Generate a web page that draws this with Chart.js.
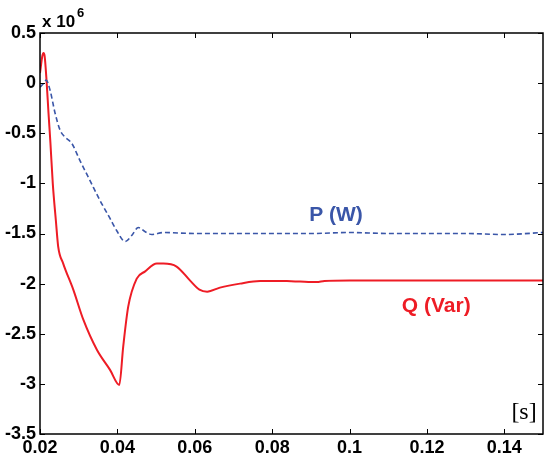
<!DOCTYPE html>
<html>
<head>
<meta charset="utf-8">
<script src="https://cdn.jsdelivr.net/npm/chart.js@4/dist/chart.umd.min.js"></script>
<style>
  html, body { margin: 0; padding: 0; background: #fff; }
  #wrap { width: 545px; height: 458px; }
</style>
</head>
<body>
<div id="wrap"><canvas id="grafico" width="545" height="458"></canvas></div>
<script>
// dados (valores em x 10^6)
const tempoP = [0.0200, 0.0210, 0.0216, 0.0226, 0.0239, 0.0252, 0.0265, 0.0282, 0.0303, 0.0329, 0.0355, 0.0381, 0.0398, 0.0420, 0.0437, 0.0454, 0.0471, 0.0489, 0.0519, 0.0600, 0.0700, 0.0800, 0.0900, 0.1000, 0.1100, 0.1200, 0.1300, 0.1400, 0.1500];
const valoresP = [-0.04, 0.00, 0.03, -0.07, -0.30, -0.47, -0.54, -0.60, -0.77, -0.97, -1.17, -1.35, -1.47, -1.58, -1.52, -1.44, -1.48, -1.51, -1.49, -1.50, -1.50, -1.50, -1.50, -1.49, -1.50, -1.50, -1.50, -1.51, -1.49];

const tempoQ = [0.0200, 0.0206, 0.0209, 0.0212, 0.0217, 0.0222, 0.0227, 0.0233, 0.0241, 0.0247, 0.0260, 0.0286, 0.0312, 0.0347, 0.0381, 0.0405, 0.0415, 0.0428, 0.0450, 0.0471, 0.0502, 0.0519, 0.0553, 0.0588, 0.0612, 0.0632, 0.0665, 0.0717, 0.0769, 0.0838, 0.0872, 0.0915, 0.0935, 0.1000, 0.1200, 0.1400, 0.1500];
const valoresQ = [0.10, 0.27, 0.30, 0.27, 0.02, -0.30, -0.60, -1.00, -1.37, -1.63, -1.80, -2.06, -2.36, -2.66, -2.86, -3.01, -2.63, -2.23, -1.95, -1.88, -1.80, -1.80, -1.83, -1.97, -2.06, -2.08, -2.04, -2.00, -1.975, -1.975, -1.98, -1.985, -1.975, -1.97, -1.97, -1.97, -1.97];

const ticksX = [0.02, 0.04, 0.06, 0.08, 0.1, 0.12, 0.14];
const ticksY = [0.5, 0, -0.5, -1, -1.5, -2, -2.5, -3, -3.5];

const fonteEixo = { family: "'Liberation Sans', Arial, sans-serif", size: 18, weight: 'bold' };

// tracinhos internos, moldura e textos
const moldura = {
    id: 'moldura',
    afterDraw(chart) {
        const c = chart.ctx;
        const a = chart.chartArea;
        const sx = chart.scales.x, sy = chart.scales.y;
        c.save();
        c.strokeStyle = '#000';
        c.lineWidth = 1.5;
        c.strokeRect(a.left, a.top, a.right - a.left, a.bottom - a.top);
        c.lineWidth = 1;
        c.beginPath();
        ticksX.forEach(function(t) {
            const x = Math.round(sx.getPixelForValue(t)) + 0.5;
            c.moveTo(x, a.bottom); c.lineTo(x, a.bottom - 5);
            c.moveTo(x, a.top); c.lineTo(x, a.top + 5);
        });
        ticksY.forEach(function(v) {
            const y = Math.round(sy.getPixelForValue(v)) + 0.5;
            c.moveTo(a.left, y); c.lineTo(a.left + 5, y);
            c.moveTo(a.right, y); c.lineTo(a.right - 5, y);
        });
        c.stroke();

        // x 10^6
        c.fillStyle = '#000';
        c.textBaseline = 'alphabetic';
        c.textAlign = 'left';
        c.font = "bold 17px 'Liberation Sans', Arial, sans-serif";
        c.fillText('x 10', a.left + 2, a.top - 6);
        c.font = "bold 13px 'Liberation Sans', Arial, sans-serif";
        c.fillText('6', a.left + 37, a.top - 16);

        // rótulos das curvas
        c.textAlign = 'center';
        c.textBaseline = 'middle';
        c.font = "bold 21px 'Liberation Sans', Arial, sans-serif";
        c.fillStyle = '#3a56a8';
        c.fillText('P (W)', sx.getPixelForValue(0.0965), sy.getPixelForValue(-1.317));
        c.fillStyle = '#ee1c25';
        c.fillText('Q (Var)', sx.getPixelForValue(0.1224), sy.getPixelForValue(-2.224));
        c.fillStyle = '#000';
        c.font = "24px 'Liberation Serif', 'Times New Roman', serif";
        c.fillText('[s]', sx.getPixelForValue(0.1451), sy.getPixelForValue(-3.29));
        c.restore();
    }
};

const config = {
    type: 'line',
    data: {
        datasets: [{
            label: 'P (W)',
            data: tempoP.map(function(t, i) { return { x: t, y: valoresP[i] }; }),
            borderColor: '#3a56a8',
            borderWidth: 1.6,
            borderDash: [5, 3],
            pointRadius: 0,
            cubicInterpolationMode: 'monotone',
            fill: false
        }, {
            label: 'Q (Var)',
            data: tempoQ.map(function(t, i) { return { x: t, y: valoresQ[i] }; }),
            borderColor: '#ee1c25',
            borderWidth: 2,
            pointRadius: 0,
            cubicInterpolationMode: 'monotone',
            fill: false
        }]
    },
    options: {
        responsive: false,
        animation: false,
        layout: { padding: { top: 33, right: 2, left: 0, bottom: 0 } },
        plugins: {
            legend: { display: false },
            tooltip: { enabled: false }
        },
        scales: {
            x: {
                type: 'linear',
                min: 0.02,
                max: 0.15,
                grid: { display: false, drawTicks: false },
                border: { display: false },
                afterBuildTicks: function(scale) {
                    scale.ticks = ticksX.map(function(v) { return { value: v }; });
                },
                afterFit: function(scale) { scale.height = 24; },
                ticks: {
                    color: '#000',
                    font: fonteEixo,
                    padding: 3,
                    maxRotation: 0,
                    callback: function(v) { return String(Number(v.toFixed(2))); }
                }
            },
            y: {
                type: 'linear',
                min: -3.5,
                max: 0.5,
                grid: { display: false, drawTicks: false },
                border: { display: false },
                afterBuildTicks: function(scale) {
                    scale.ticks = ticksY.map(function(v) { return { value: v }; });
                },
                afterFit: function(scale) { scale.width = 40; },
                ticks: {
                    color: '#000',
                    font: fonteEixo,
                    padding: 4,
                    callback: function(v) { return String(v); }
                }
            }
        }
    },
    plugins: [moldura]
};

const ctx = document.getElementById('grafico').getContext('2d');
const grafico = new Chart(ctx, config);
</script>
</body>
</html>
